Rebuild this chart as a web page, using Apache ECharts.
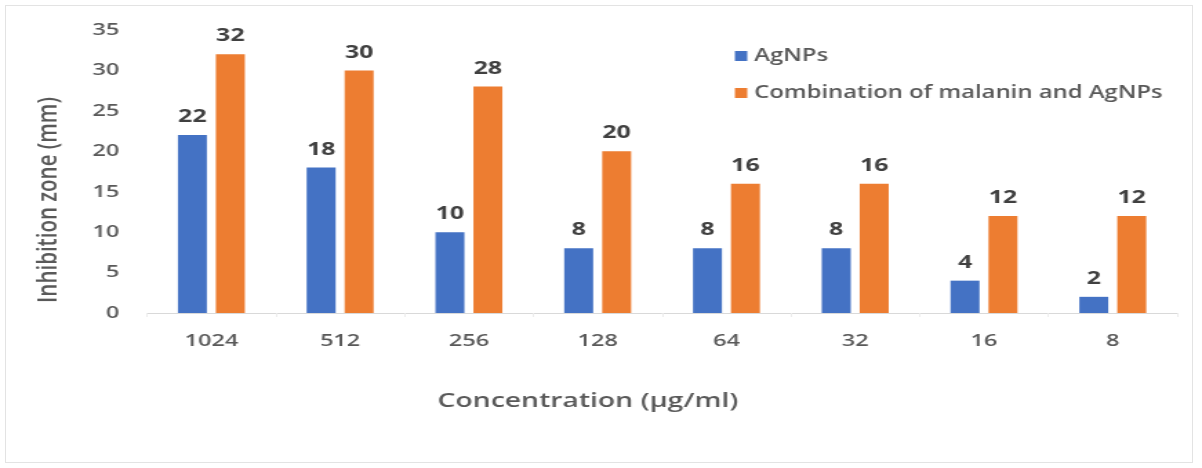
<!DOCTYPE html>
<html>
<head>
<meta charset="utf-8">
<script src="https://cdn.jsdelivr.net/npm/echarts@6/dist/echarts.min.js"></script>
<style>
  html, body { margin: 0; padding: 0; background: #ffffff; }
  #wrap { position: relative; width: 1202px; height: 468px; overflow: hidden; }
  #frame { position: absolute; left: 5px; top: 5px; width: 1186px; height: 456px; border: 1px solid #e3e3e3; }
  /* the chart is laid out narrower and widened to the full page width */
  #chart { position: absolute; left: 0; top: 0; width: 871px; height: 468px;
           transform: scaleX(1.38); transform-origin: 0 0; }
</style>
</head>
<body>
<div id="wrap">
  <div id="frame"></div>
  <div id="chart"></div>
</div>
<script>
const concentrations = ['1024', '512', '256', '128', '64', '32', '16', '8'];
const agnpsZone = [22, 18, 10, 8, 8, 8, 4, 2];
const comboZone = [32, 30, 28, 20, 16, 16, 12, 12];
const yTicks = { min: 0, max: 35, interval: 5 };

const FONT = '"Open Sans", sans-serif';
const chart = echarts.init(document.getElementById('chart'), null, { renderer: 'canvas' });

const valueLabel = {
  show: true,
  position: 'top',
  distance: 9,
  fontFamily: FONT,
  fontSize: 18,
  fontWeight: 'bold',
  color: '#404040'
};

chart.setOption({
  animation: false,
  backgroundColor: 'transparent',
  grid: { left: 106.5, right: 18, top: 30, bottom: 155, containLabel: false },
  legend: {
    orient: 'vertical',
    left: 527.5,
    top: 42,
    icon: 'rect',
    itemWidth: 9,
    itemHeight: 10,
    itemGap: 19,
    textStyle: { fontFamily: FONT, fontSize: 17.3, fontWeight: 600, color: '#595959', lineHeight: 18, padding: [0, 0, 0, 0] },
    data: ['AgNPs', 'Combination of malanin and AgNPs']
  },
  xAxis: {
    type: 'category',
    data: concentrations,
    axisLine: { show: true, lineStyle: { color: '#d9d9d9', width: 1 } },
    axisTick: { show: true, length: 4, lineStyle: { color: '#ececec' } },
    axisLabel: { fontFamily: FONT, fontSize: 17, fontWeight: 600, color: '#595959', margin: 20 }
  },
  yAxis: {
    type: 'value',
    min: yTicks.min,
    max: yTicks.max,
    interval: yTicks.interval,
    splitLine: { show: false },
    axisLine: { show: false },
    axisTick: { show: false },
    axisLabel: { fontFamily: FONT, fontSize: 17, fontWeight: 600, color: '#595959', margin: 20 }
  },
  graphic: [
    {
      type: 'text',
      x: 35,
      y: 200,
      rotation: Math.PI / 2,
      style: {
        text: 'Inhibition zone (mm)',
        fontFamily: FONT,
        fontSize: 20.5,
        fontWeight: 600,
        fill: '#595959',
        align: 'center',
        verticalAlign: 'middle'
      }
    },
    {
      type: 'text',
      x: 426,
      y: 401,
      style: {
        text: 'Concentration (µg/ml)',
        fontFamily: FONT,
        fontSize: 20.5,
        fontWeight: 600,
        fill: '#595959',
        align: 'center',
        verticalAlign: 'middle'
      }
    }
  ],
  series: [
    {
      name: 'AgNPs',
      type: 'bar',
      data: agnpsZone,
      barWidth: 21,
      barGap: '31%',
      itemStyle: { color: '#4472C4' },
      label: valueLabel
    },
    {
      name: 'Combination of malanin and AgNPs',
      type: 'bar',
      data: comboZone,
      barWidth: 21,
      barGap: '31%',
      itemStyle: { color: '#ED7D31' },
      label: valueLabel
    }
  ]
});
</script>
</body>
</html>
